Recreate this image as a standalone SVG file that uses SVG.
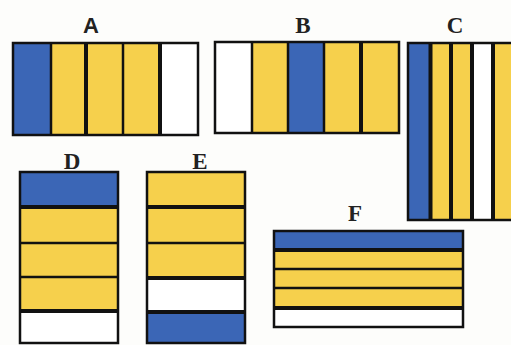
<svg xmlns="http://www.w3.org/2000/svg" width="511" height="345" viewBox="0 0 511 345">
<style>
.b{fill:#3b66b6}
.y{fill:#f6d04c}
.w{fill:#ffffff}
.o{fill:none;stroke:#111;stroke-width:2.5}
.d{stroke:#111;stroke-width:2.5}
.dk{stroke:#111;stroke-width:4}
.ls{font-family:"Liberation Sans",Arial,sans-serif;font-size:22px;font-weight:bold;fill:#222;text-anchor:middle}
.lt{font-family:"Liberation Serif","Times New Roman",serif;font-size:23px;font-weight:bold;fill:#222;text-anchor:middle}
</style>
<rect width="511" height="345" fill="#fdfdfb"/>
<g id="A">
<text class="ls" x="91" y="33">A</text>
<rect class="b" x="13" y="43" width="38" height="92"/>
<rect class="y" x="51" y="43" width="109" height="92"/>
<rect class="w" x="160" y="43" width="38" height="92"/>
<line class="d" x1="51" y1="43" x2="51" y2="135"/>
<line class="dk" x1="86" y1="43" x2="86" y2="135"/>
<line class="d" x1="123" y1="43" x2="123" y2="135"/>
<line class="dk" x1="160" y1="43" x2="160" y2="135"/>
<rect class="o" x="13" y="43" width="185" height="92"/>
</g>
<g id="B">
<text class="lt" x="303" y="33">B</text>
<rect class="w" x="215" y="42" width="37" height="91"/>
<rect class="y" x="252" y="42" width="36" height="91"/>
<rect class="b" x="288" y="42" width="36" height="91"/>
<rect class="y" x="324" y="42" width="75" height="91"/>
<line class="d" x1="252" y1="42" x2="252" y2="133"/>
<line class="d" x1="288" y1="42" x2="288" y2="133"/>
<line class="d" x1="324" y1="42" x2="324" y2="133"/>
<line class="dk" x1="361" y1="42" x2="361" y2="133"/>
<rect class="o" x="215" y="42" width="184" height="91"/>
</g>
<g id="C">
<text class="lt" x="455" y="33">C</text>
<rect class="b" x="408" y="43" width="22" height="177"/>
<rect class="y" x="430" y="43" width="42" height="177"/>
<rect class="w" x="472" y="43" width="21" height="177"/>
<rect class="y" x="493" y="43" width="25" height="177"/>
<line class="dk" x1="430.5" y1="43" x2="430.5" y2="220"/>
<line class="dk" x1="451" y1="43" x2="451" y2="220"/>
<line class="dk" x1="472" y1="43" x2="472" y2="220"/>
<line class="dk" x1="493" y1="43" x2="493" y2="220"/>
<rect class="o" x="408" y="43" width="110" height="177"/>
</g>
<g id="D">
<text class="lt" x="72" y="169">D</text>
<rect class="b" x="20" y="172" width="98" height="35"/>
<rect class="y" x="20" y="207" width="98" height="104"/>
<rect class="w" x="20" y="311" width="98" height="32"/>
<line class="dk" x1="20" y1="207" x2="118" y2="207"/>
<line class="d" x1="20" y1="243" x2="118" y2="243"/>
<line class="d" x1="20" y1="277" x2="118" y2="277"/>
<line class="dk" x1="20" y1="311" x2="118" y2="311"/>
<rect class="o" x="20" y="172" width="98" height="171"/>
</g>
<g id="E">
<text class="lt" x="200" y="169">E</text>
<rect class="y" x="147" y="172" width="98" height="106"/>
<rect class="w" x="147" y="278" width="98" height="34"/>
<rect class="b" x="147" y="312" width="98" height="31"/>
<line class="dk" x1="147" y1="207" x2="245" y2="207"/>
<line class="d" x1="147" y1="243" x2="245" y2="243"/>
<line class="dk" x1="147" y1="278" x2="245" y2="278"/>
<line class="dk" x1="147" y1="312" x2="245" y2="312"/>
<rect class="o" x="147" y="172" width="98" height="171"/>
</g>
<g id="F">
<text class="lt" x="355" y="221">F</text>
<rect class="b" x="274" y="231" width="189" height="19"/>
<rect class="y" x="274" y="250" width="189" height="58"/>
<rect class="w" x="274" y="308" width="189" height="19"/>
<line class="dk" x1="274" y1="250" x2="463" y2="250"/>
<line class="d" x1="274" y1="269" x2="463" y2="269"/>
<line class="d" x1="274" y1="288" x2="463" y2="288"/>
<line class="dk" x1="274" y1="308" x2="463" y2="308"/>
<rect class="o" x="274" y="231" width="189" height="96"/>
</g>
<g id="connectors"/>
</svg>
